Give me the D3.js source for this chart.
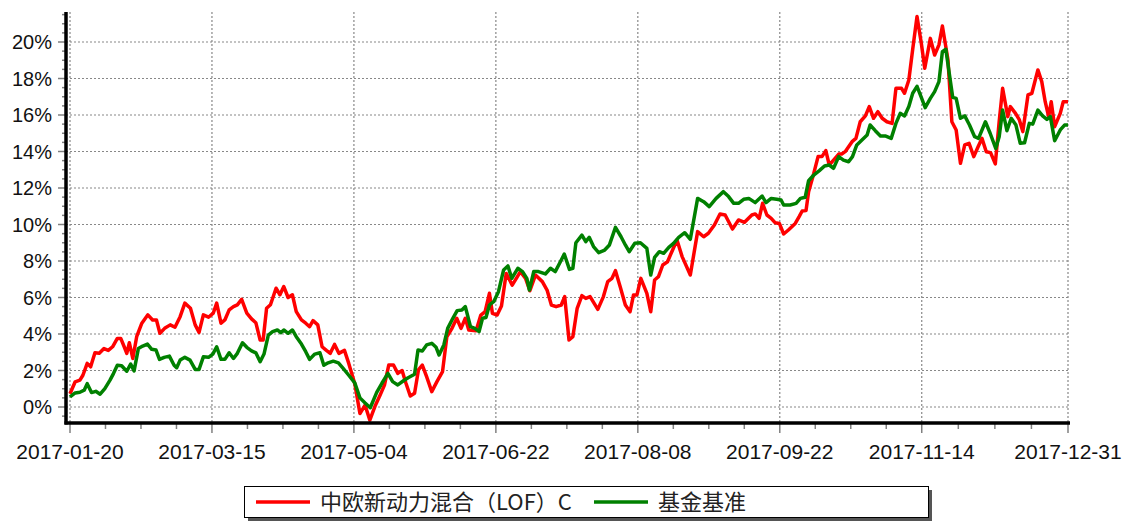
<!DOCTYPE html>
<html>
<head>
<meta charset="utf-8" />
<title>中欧新动力混合（LOF）C vs 基金基准</title>
<style>
body { margin: 0; background: #fff; }
#chart { width: 1130px; height: 521px; }
.grid line { stroke: #888; stroke-width: 1.2; stroke-dasharray: 2,2; }
.tick-lbl { font-family: "Liberation Sans", Arial, sans-serif; fill: #111; }
</style>
</head>
<body>
<div id="chart"></div>
<script src="https://cdnjs.cloudflare.com/ajax/libs/d3/7.8.5/d3.min.js"></script>
<script>
// x axis: trading-day index, labelled dates
var tickLabels = ["2017-01-20", "2017-03-15", "2017-05-04", "2017-06-22", "2017-08-08", "2017-09-22", "2017-11-14", "2017-12-31"];
var tickDays = [0, 33, 66, 99, 132, 165, 198, 232];
var yTicks = [0, 2, 4, 6, 8, 10, 12, 14, 16, 18, 20];

var seriesNames = ["中欧新动力混合（LOF）C", "基金基准"];

// 中欧新动力混合（LOF）C, cumulative return %
var fundDays = [0,1.2,2.3,3,4,4.8,5.8,6.8,7.9,8.9,9.9,11,11.8,12.6,13.2,13.8,14.6,15.5,16.7,18.1,19.2,20.1,20.9,22,23.3,24.4,25.6,26.7,28,29.1,30,31,32.2,33.3,34.1,35.1,36,37,38,38.9,39.9,41.1,42.2,43.2,44.2,44.9,45.7,46.6,47.9,48.8,49.7,50.7,51.7,52.6,53.8,54.8,55.7,56.5,57.6,58.6,59.6,60.5,61.5,62.5,63.8,64.8,66.2,67.4,68.6,69.7,71,72.1,73.1,74.1,75.2,76.2,77.2,78.1,79.1,80.1,81,81.9,82.9,84.1,85.3,86.6,87.6,88.8,89.9,90.9,91.9,92.7,94.4,95.5,96.5,97.5,98.2,99.3,100.3,101.4,102.8,103.9,104.7,105.9,106.9,108.2,109.8,110.9,111.9,113,114.2,115,116,116.9,117.9,119,119.9,120.9,122.7,124,125,126,126.8,127.9,129.1,130.2,131,131.8,132.7,134.1,135,135.9,136.8,137.8,138.9,139.9,141.1,142.3,144.2,145.9,147.3,148.4,149.8,151.1,152.3,154,155.4,156.8,158.5,159.3,160.2,161,162,163,163.9,164.9,165.9,167,168.6,169.5,170.2,171.1,171.7,172.9,173.9,174.8,175.7,176.5,177.5,178.7,179.4,180.2,181.8,182.7,183.7,184.9,185.8,186.8,187.8,188.8,189.9,191.1,192,193.3,194,195,195.9,196.9,197.9,198.7,200,201,202,202.8,204.1,205,206,207,208,209,210.1,211.1,212,213,214,215.1,216,216.8,218,218.6,219.8,220.7,221.5,222.7,223.6,225,225.9,226.7,227.5,228.1,228.9,230.2,230.9,232];
var fundVals = [0.73,1.38,1.47,1.74,2.39,2.2,2.97,2.94,3.2,3.1,3.3,3.76,3.76,3.3,2.94,3.52,2.66,3.85,4.59,5.05,4.77,4.77,4.04,4.31,4.5,4.37,4.95,5.69,5.41,4.5,4.09,5.05,4.92,5.14,5.69,4.59,4.77,5.32,5.5,5.6,5.9,5.14,4.83,4.62,3.67,3.67,5.41,5.6,6.51,6.15,6.6,6.0,6.15,5.23,4.77,4.59,4.4,4.73,4.5,3.3,3.1,2.94,3.43,2.94,3.1,2.39,1.28,-0.36,0.1,-0.72,0.1,0.66,1.2,2.3,2.3,1.84,2.0,1.3,0.6,0.75,2.03,2.3,1.66,0.84,1.39,1.94,3.85,4.31,4.86,4.31,4.86,4.22,4.18,5.04,5.22,6.23,5.13,5.04,5.53,7.32,6.68,7.1,7.42,7.05,6.37,7.23,6.87,6.41,5.59,5.5,5.59,6.05,3.67,3.85,5.41,6.1,5.95,6.05,5.35,6.05,6.87,7.05,7.47,6.59,5.59,5.22,6.14,6.14,7.05,6.23,5.22,6.96,7.14,7.78,7.96,8.51,9.15,8.24,7.23,9.61,9.33,9.52,9.97,10.58,10.52,9.75,10.25,10.12,10.52,10.58,10.34,11.16,10.52,10.34,10.1,10.06,9.48,9.7,10.06,10.43,10.74,10.76,11.8,12.8,13.72,13.72,14.05,13.26,13.53,13.86,13.86,13.99,14.54,14.72,15.63,15.95,16.46,15.82,16.18,15.82,15.63,15.54,17.46,17.46,17.19,17.92,19.6,21.4,19.93,18.56,20.2,19.29,19.84,20.88,19.01,15.63,15.18,13.35,14.36,14.45,13.72,14.26,14.72,13.99,13.94,13.32,15.63,17.46,15.91,16.46,16.09,15.73,15.09,17.1,17.19,18.47,17.83,16.73,15.91,16.73,15.36,16.09,16.73,16.73];

// 基金基准
var benchDays = [0,1.2,2.3,3.3,4,5,6,7,8.1,9.3,10.1,11,12,13.2,14.1,14.9,15.9,16.9,18,19,20,20.8,21.9,23.1,24.2,24.8,25.6,26.7,27.9,29.1,30,31,32.2,33.2,34.1,35.1,36,37,38,38.9,40.1,41.1,42.2,43.2,44.2,45.1,46.1,47.1,48.2,49,49.7,50.7,51.7,52.6,53.8,54.8,55.7,56.9,58.1,59,60,61.2,62.4,63.5,64.8,66.2,67.4,68.6,69.8,71.3,72.5,73.9,75,76.2,77.6,78.6,80.1,80.9,81.9,82.9,84.1,85.1,85.8,86.9,87.8,89,90,91.1,91.9,93.1,94.1,95.1,95.9,96.7,97.5,98.5,99.6,100.8,101.8,102.7,104.1,105.2,106.2,106.8,107.8,108.9,110.5,111.7,112.8,114,114.9,116.1,116.9,117.6,119,119.9,120.7,121.7,122.9,124.3,125.4,126.8,128.1,129.1,130,131.3,132.6,134.1,135,135.9,137,138,139.2,140.3,141.5,142.9,144.2,145.9,147.3,148.6,150.2,151.9,153.1,154.3,155.4,156.6,157.8,159.3,160.9,161.8,163,164.3,165.3,165.9,167.4,168.8,169.8,170.9,171.7,172.9,174.2,175.4,176.5,177.5,178.7,179.8,181,181.9,182.9,184.1,185.3,186,187.2,188.4,189.5,190.9,192,193,194,195,195.9,196.9,197.9,198.8,200,201,202,202.8,203.6,204.4,205.2,206,207,208,209.1,210.3,211.2,212.8,213.9,215.2,216,216.8,217.8,218.8,219.9,220.9,221.9,223,223.8,225,226.1,227.1,227.9,228.9,230.2,231.2,232];
var benchVals = [0.55,0.77,0.81,0.92,1.28,0.79,0.86,0.7,1.01,1.47,1.83,2.29,2.26,1.96,2.35,1.98,3.21,3.34,3.45,3.16,3.12,2.61,2.72,2.79,2.29,2.15,2.57,2.72,2.57,2.06,2.06,2.75,2.72,2.9,3.3,2.61,2.61,2.97,2.66,2.94,3.52,3.27,3.08,2.97,2.48,2.9,3.94,4.13,4.22,4.07,4.22,4.04,4.22,3.85,3.45,3.03,2.61,2.9,2.97,2.29,2.42,2.51,2.42,2.11,1.74,1.32,0.5,0.22,-0.04,0.8,1.3,1.84,1.39,1.21,1.45,1.6,1.79,3.12,3.07,3.4,3.49,3.27,2.85,3.4,4.31,4.86,5.28,5.32,5.5,4.4,4.31,4.13,4.86,4.9,5.59,5.77,6.32,7.51,7.73,7.05,7.6,7.42,7.05,6.41,7.42,7.42,7.29,7.6,7.42,7.96,8.38,7.54,7.6,9.0,9.42,9.06,9.3,8.79,8.46,8.6,8.88,9.84,9.33,8.88,8.51,8.97,9.0,8.69,7.23,8.2,8.51,8.42,8.75,8.97,9.3,9.55,9.19,11.43,11.25,10.98,11.43,11.8,11.53,11.16,11.16,11.38,11.43,11.2,11.56,11.2,11.43,11.38,11.34,11.07,11.07,11.16,11.43,11.49,12.4,12.71,12.95,13.21,13.26,13.08,13.72,13.53,13.44,13.72,14.36,14.63,14.9,15.45,15.14,14.85,14.85,14.72,15.54,16.09,15.95,16.46,17.19,17.57,16.97,16.4,16.91,17.28,17.83,19.47,19.6,18.28,16.97,16.91,15.82,15.95,15.45,14.81,14.72,15.63,15.0,14.17,14.81,16.27,15.14,15.82,15.45,14.45,14.48,15.54,15.5,16.27,15.95,15.76,15.91,14.59,15.18,15.45,15.45];

!(function(){
    "use strict"

    var width = 1130, height = 521
    var plotLeft = 66, plotRight = 1070, plotTop = 12, plotBottom = 423

    var svg = d3.select("#chart").append("svg")
        .attr("width", width).attr("height", height)

    var x = d3.scaleLinear().domain([0, 232]).range([70, 1068])
    var y = d3.scaleLinear().domain([0, 20]).range([407, 42])

    // minor ticks: 4 steps between each labelled date, half-percent on y
    var xMinor = []
    for (var i = 0; i < tickDays.length - 1; i++) {
        var a = tickDays[i], b = tickDays[i+1]
        for (var k = 1; k < 4; k++) xMinor.push(a + (b - a) * k / 4)
    }
    var yMinor = d3.range(-0.5, 21.6, 0.5).filter(function(v){ return v % 2 !== 0 })

    // grid
    var grid = svg.append("g").attr("class", "grid")
    grid.selectAll("line.h").data(yTicks).enter().append("line")
        .attr("x1", plotLeft).attr("x2", plotRight)
        .attr("y1", function(d){ return y(d) }).attr("y2", function(d){ return y(d) })
    grid.selectAll("line.v").data(tickDays).enter().append("line")
        .attr("x1", function(d){ return x(d) }).attr("x2", function(d){ return x(d) })
        .attr("y1", plotTop).attr("y2", plotBottom)

    // tick marks
    var ticks = svg.append("g").attr("stroke", "#808080").attr("stroke-width", 1.5)
    ticks.selectAll("line.ym").data(yTicks).enter().append("line")
        .attr("x1", plotLeft - 8).attr("x2", plotLeft)
        .attr("y1", function(d){ return y(d) }).attr("y2", function(d){ return y(d) })
    ticks.selectAll("line.yn").data(yMinor).enter().append("line")
        .attr("x1", plotLeft - 4).attr("x2", plotLeft)
        .attr("y1", function(d){ return y(d) }).attr("y2", function(d){ return y(d) })
    ticks.selectAll("line.xm").data(tickDays).enter().append("line")
        .attr("x1", function(d){ return x(d) }).attr("x2", function(d){ return x(d) })
        .attr("y1", plotBottom).attr("y2", plotBottom + 10)
    ticks.selectAll("line.xn").data(xMinor).enter().append("line")
        .attr("x1", function(d){ return x(d) }).attr("x2", function(d){ return x(d) })
        .attr("y1", plotBottom).attr("y2", plotBottom + 6)

    // labels
    svg.append("g").selectAll("text").data(yTicks).enter().append("text")
        .attr("class", "tick-lbl")
        .attr("x", 52).attr("y", function(d){ return y(d) })
        .attr("dy", "0.36em")
        .attr("text-anchor", "end")
        .style("font-size", "20px")
        .text(function(d){ return d + "%" })
    svg.append("g").selectAll("text").data(tickDays).enter().append("text")
        .attr("class", "tick-lbl")
        .attr("x", function(d){ return x(d) }).attr("y", 459)
        .attr("text-anchor", "middle")
        .style("font-size", "21px")
        .text(function(d, i){ return tickLabels[i] })

    // series
    var line = d3.line()
        .x(function(d){ return x(d[0]) })
        .y(function(d){ return y(d[1]) })

    var fund = d3.zip(fundDays, fundVals)
    var bench = d3.zip(benchDays, benchVals)

    svg.append("path").datum(fund)
        .attr("fill", "none").attr("stroke", "#ff0000")
        .attr("stroke-width", 3.5).attr("stroke-linejoin", "round")
        .attr("d", line)
    svg.append("path").datum(bench)
        .attr("fill", "none").attr("stroke", "#008000")
        .attr("stroke-width", 3.5).attr("stroke-linejoin", "round")
        .attr("d", line)

    // axis lines
    svg.append("line")
        .attr("x1", plotLeft).attr("x2", plotLeft)
        .attr("y1", plotTop).attr("y2", plotBottom + 1.5)
        .attr("stroke", "#000").attr("stroke-width", 3.5)
    svg.append("line")
        .attr("x1", plotLeft - 1.5).attr("x2", plotRight)
        .attr("y1", plotBottom).attr("y2", plotBottom)
        .attr("stroke", "#000").attr("stroke-width", 3.5)

    // legend
    var lg = svg.append("g")
    lg.append("rect").attr("x", 248).attr("y", 490).attr("width", 684).attr("height", 31).attr("fill", "#555")
    lg.append("rect").attr("x", 244.5).attr("y", 486.5).attr("width", 684).attr("height", 31)
        .attr("fill", "#fff").attr("stroke", "#000").attr("stroke-width", 1)
    var colors = ["#ff0000", "#008000"]
    var lx = [256, 594]
    seriesNames.forEach(function(name, i) {
        lg.append("line")
            .attr("x1", lx[i]).attr("x2", lx[i] + 54)
            .attr("y1", 502).attr("y2", 502)
            .attr("stroke", colors[i]).attr("stroke-width", 3.5)
        lg.append("text")
            .attr("x", lx[i] + 64).attr("y", 502).attr("dy", "0.36em")
            .style("font-family", "'Noto Sans CJK SC', sans-serif")
            .style("font-size", "22px").style("fill", "#222")
            .text(name)
    })
}());
</script>
</body>
</html>
